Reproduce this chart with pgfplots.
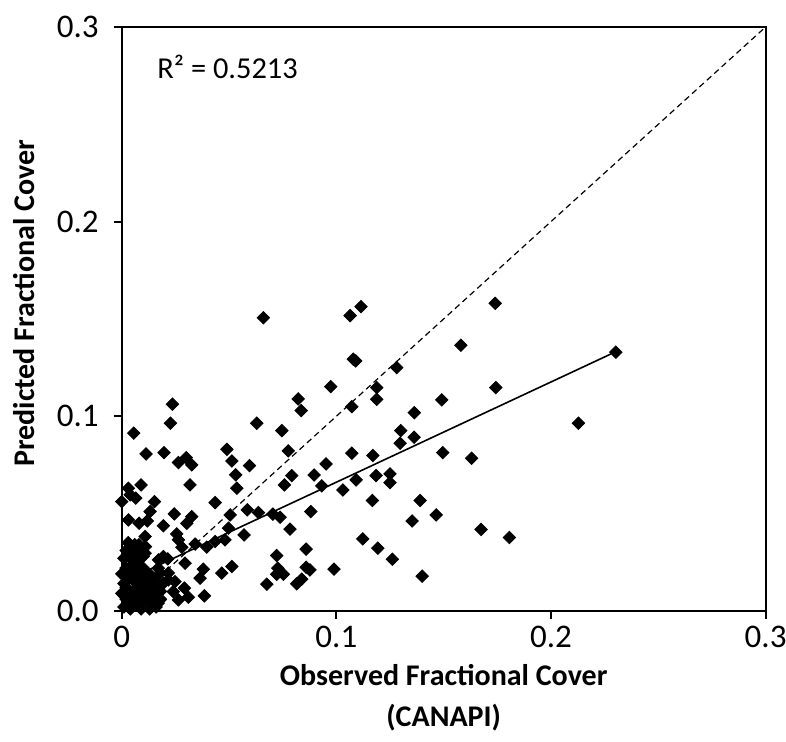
\documentclass[border=0pt]{standalone}
\usepackage{pgfplots}
\pgfplotsset{compat=1.18}
\usepackage{fontspec}
\setmainfont{Carlito}
\begin{document}
\begin{tikzpicture}
\begin{axis}[
  scale only axis, width=322pt, height=292pt,
  xmin=0, xmax=0.3, ymin=0, ymax=0.3,
  xtick={0,0.1,0.2,0.3}, xticklabels={0,0.1,0.2,0.3},
  ytick={0,0.1,0.2,0.3}, yticklabels={0.0,0.1,0.2,0.3},
  /pgf/number format/assume math mode=true,
  tick pos=left, tick align=outside, major tick length=4pt,
  axis line style={line width=1pt},
  major tick style={line width=1pt, black},
  tick label style={font=\fontsize{16.5}{19}\selectfont},
  xticklabel style={yshift=0pt},
  yticklabel style={xshift=-4pt},
  xlabel={Observed Fractional Cover\\(CANAPI)},
  ylabel={Predicted Fractional Cover},
  xlabel style={font=\bfseries\fontsize{15}{20.5}\selectfont, align=center, at={(axis description cs:0.5,-0.148)}, anchor=center},
  ylabel style={font=\bfseries\fontsize{15}{18}\selectfont, at={(axis description cs:-0.1516,0.527)}, anchor=center},
  clip=false,
]
\coordinate (SW) at (rel axis cs:0,0);
\coordinate (NE) at (rel axis cs:1,1);
% 1:1 line
\addplot[black, line width=0.6pt, dash pattern=on 3pt off 2pt] coordinates {(0,0) (0.3,0.3)};
% data
\addplot[only marks, mark=square*, mark size=2.2pt, mark options={rotate=45, black, fill=black}] coordinates {
(0.066,0.1506) (0.0236,0.1062) (0.0227,0.0964) (0.0056,0.0913) (0.0113,0.0806)
(0.0197,0.0813) (0.0300,0.0787) (0.0264,0.0762) (0.0326,0.0750) (0.0490,0.0830)
(0.0629,0.0964) (0.0746,0.0926) (0.0776,0.0822) (0.0513,0.0770) (0.1064,0.1517)
(0.1115,0.1563) (0.1079,0.1293) (0.1090,0.1284) (0.1281,0.1250) (0.1580,0.1365)
(0.0974,0.1152) (0.1188,0.1147) (0.1188,0.1087) (0.0822,0.1089) (0.0836,0.1029)
(0.1072,0.1049) (0.1491,0.1084) (0.1363,0.1018) (0.1300,0.0926) (0.1297,0.0861)
(0.1362,0.0892) (0.1072,0.0810) (0.1170,0.0798) (0.1496,0.0813) (0.1740,0.1580)
(0.2302,0.1329) (0.1743,0.1147) (0.2128,0.0964) (0.1630,0.0784) (0.1390,0.0567)
(0.1353,0.0462) (0.1465,0.0493) (0.1674,0.0418) (0.1806,0.0377) (0.1400,0.0178)
(0.0595,0.0746) (0.0952,0.0755) (0.0792,0.0695) (0.0896,0.0698) (0.0758,0.0647)
(0.0932,0.0642) (0.1030,0.0621) (0.1092,0.0673) (0.1185,0.0695) (0.1250,0.0704)
(0.1250,0.0659) (0.1168,0.0567) (0.0531,0.0699) (0.0536,0.0630) (0.0585,0.0519)
(0.0637,0.0505) (0.0704,0.0497) (0.0738,0.0481) (0.0881,0.0510) (0.0784,0.0420)
(0.0570,0.0390) (0.1123,0.0370) (0.1193,0.0322) (0.1261,0.0265) (0.0859,0.0317)
(0.0722,0.0284) (0.0727,0.0219) (0.0722,0.0188) (0.0753,0.0188) (0.0859,0.0224)
(0.0877,0.0210) (0.0989,0.0214) (0.0839,0.0163) (0.0815,0.0139) (0.0676,0.0137)
(0.0031,0.0630) (0.0090,0.0647) (0.0039,0.0596) (0.0000,0.0561) (0.0065,0.0579)
(0.0152,0.0561) (0.0318,0.0647) (0.0435,0.0556) (0.0132,0.0510) (0.0031,0.0467)
(0.0081,0.0450) (0.0119,0.0462) (0.0194,0.0437) (0.0245,0.0498) (0.0326,0.0484)
(0.0303,0.0450) (0.0505,0.0493) (0.0497,0.0425) (0.0256,0.0395) (0.0109,0.0382)
(0.0264,0.0365) (0.0342,0.0343) (0.0396,0.0327) (0.0435,0.0356) (0.0481,0.0365)
(0.0280,0.0327) (0.0062,0.0322) (0.0047,0.0279) (0.0109,0.0296) (0.0171,0.0262)
(0.0214,0.0267) (0.0295,0.0245) (0.0380,0.0214) (0.0466,0.0194) (0.0513,0.0228)
(0.0365,0.0168) (0.0292,0.0117) (0.0310,0.0070) (0.0385,0.0077) (0.0248,0.0150)
(0.0217,0.0194) (0.0178,0.0194) (0.0132,0.0185) (0.0194,0.0142) (0.0240,0.0099)
(0.0264,0.0056) (0.0178,0.0056) (0.0194,0.0279) (0.0170,0.0219) (0.0217,0.0159)
(0.0010,0.0020) (0.0020,0.0060) (0.0030,0.0100) (0.0010,0.0140) (0.0040,0.0180)
(0.0020,0.0220) (0.0050,0.0260) (0.0030,0.0300) (0.0060,0.0340) (0.0080,0.0310)
(0.0100,0.0280) (0.0070,0.0240) (0.0090,0.0200) (0.0060,0.0150) (0.0080,0.0110)
(0.0050,0.0070) (0.0070,0.0030) (0.0100,0.0050) (0.0120,0.0090) (0.0110,0.0140)
(0.0130,0.0180) (0.0140,0.0030) (0.0160,0.0070) (0.0150,0.0110) (0.0170,0.0040)
(0.0040,0.0010) (0.0090,0.0010) (0.0130,0.0010) (0.0000,0.0090) (0.0000,0.0190)
(0.0010,0.0270) (0.0180,0.0100) (0.0030,0.0350) (0.0110,0.0330)
(0.0020,0.0120) (0.0040,0.0040) (0.0060,0.0110) (0.0080,0.0170) (0.0100,0.0220)
(0.0120,0.0050) (0.0140,0.0140) (0.0160,0.0020) (0.0020,0.0170) (0.0040,0.0220)
(0.0060,0.0190) (0.0080,0.0270) (0.0020,0.0310) (0.0050,0.0310) (0.0080,0.0340)
(0.0100,0.0100) (0.0120,0.0130) (0.0150,0.0160) (0.0180,0.0060) (0.0160,0.0130)
(0.0010,0.0080) (0.0030,0.0050) (0.0070,0.0080) (0.0090,0.0140) (0.0110,0.0180)
};
% trend line
\addplot[black, line width=0.8pt] coordinates {(0,0.0146) (0.2303,0.1332)};
\node[anchor=base west, inner sep=0pt, font=\fontsize{15.2}{18}\selectfont] at (axis cs:0.01645,0.2736) {R² = 0.5213};
\end{axis}
\pgfresetboundingbox
\path ([xshift=-60.9pt,yshift=-65.5pt]SW) rectangle ([xshift=10.2pt,yshift=13.5pt]NE);
\end{tikzpicture}
\end{document}
